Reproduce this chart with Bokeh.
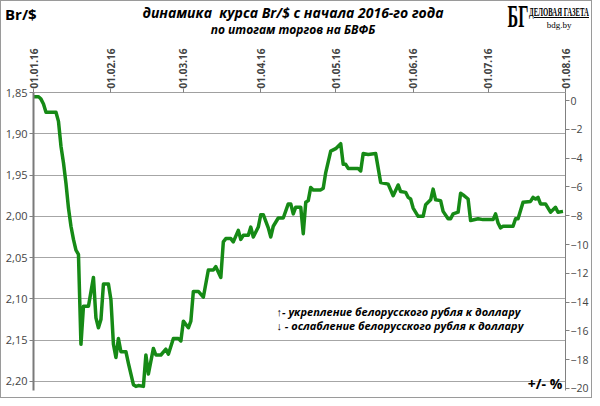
import pandas as pd
from bokeh.plotting import figure
from bokeh.layouts import column
from bokeh.models import (Range1d, LinearAxis, FixedTicker, MonthsTicker, Div,
                          DatetimeTickFormatter, CustomJSTickFormatter, Label)
from bokeh.embed import file_html
from bokeh.resources import INLINE

# Br/$ rate, BCSE session results
dates = [
    "2016-01-01", "2016-01-03", "2016-01-04", "2016-01-05", "2016-01-06", "2016-01-10",
    "2016-01-11", "2016-01-12", "2016-01-13", "2016-01-14", "2016-01-15", "2016-01-16",
    "2016-01-17", "2016-01-18", "2016-01-19", "2016-01-20", "2016-01-21", "2016-01-23",
    "2016-01-25", "2016-01-26", "2016-01-27", "2016-01-28", "2016-01-29", "2016-01-31",
    "2016-02-01", "2016-02-02", "2016-02-03", "2016-02-04", "2016-02-05", "2016-02-07",
    "2016-02-08", "2016-02-10", "2016-02-11", "2016-02-12", "2016-02-14", "2016-02-15",
    "2016-02-16", "2016-02-18", "2016-02-19", "2016-02-21", "2016-02-23", "2016-02-24",
    "2016-02-26", "2016-02-28", "2016-02-29",
    "2016-03-01", "2016-03-03", "2016-03-04", "2016-03-05", "2016-03-07", "2016-03-09",
    "2016-03-11", "2016-03-13", "2016-03-14", "2016-03-16", "2016-03-17", "2016-03-18",
    "2016-03-20", "2016-03-21", "2016-03-23", "2016-03-24", "2016-03-25", "2016-03-27",
    "2016-03-28", "2016-03-29", "2016-03-31",
    "2016-04-01", "2016-04-02", "2016-04-04", "2016-04-05", "2016-04-06", "2016-04-08",
    "2016-04-10", "2016-04-12", "2016-04-13", "2016-04-14", "2016-04-15", "2016-04-17",
    "2016-04-18", "2016-04-19", "2016-04-20", "2016-04-21", "2016-04-22", "2016-04-25",
    "2016-04-26", "2016-04-27", "2016-04-29",
    "2016-05-01", "2016-05-03", "2016-05-04", "2016-05-05", "2016-05-06", "2016-05-10",
    "2016-05-11", "2016-05-12", "2016-05-14", "2016-05-17", "2016-05-19", "2016-05-22",
    "2016-05-24", "2016-05-26", "2016-05-27", "2016-05-29", "2016-05-30", "2016-05-31",
    "2016-06-01", "2016-06-03", "2016-06-05", "2016-06-06", "2016-06-08", "2016-06-09",
    "2016-06-10", "2016-06-12", "2016-06-13", "2016-06-15", "2016-06-16", "2016-06-17",
    "2016-06-19", "2016-06-20", "2016-06-21", "2016-06-23", "2016-06-24", "2016-06-27",
    "2016-06-29",
    "2016-07-03", "2016-07-04", "2016-07-05", "2016-07-06", "2016-07-07", "2016-07-11",
    "2016-07-12", "2016-07-13", "2016-07-15", "2016-07-18", "2016-07-19", "2016-07-20",
    "2016-07-21", "2016-07-22", "2016-07-24", "2016-07-26", "2016-07-28", "2016-07-29",
    "2016-07-31",
]
rate = [
    1.855, 1.855, 1.858, 1.864, 1.874, 1.874,
    1.885, 1.915, 1.935, 1.960, 1.990, 2.012,
    2.028, 2.041, 2.046, 2.155, 2.109, 2.109,
    2.074, 2.123, 2.135, 2.125, 2.082, 2.082,
    2.101, 2.155, 2.171, 2.148, 2.164, 2.164,
    2.178, 2.204, 2.206, 2.205, 2.206, 2.168,
    2.191, 2.160, 2.168, 2.168, 2.161, 2.167,
    2.148, 2.148, 2.151,
    2.127, 2.135, 2.127, 2.091, 2.091, 2.098,
    2.065, 2.065, 2.061, 2.074, 2.031, 2.027,
    2.027, 2.031, 2.017, 2.028, 2.023, 2.023,
    2.013, 2.025, 2.013,
    1.998, 1.998, 2.014, 2.025, 2.012, 2.002,
    2.002, 1.985, 1.985, 1.997, 1.989, 1.989,
    2.021, 1.983, 1.981, 1.965, 1.968, 1.968,
    1.966, 1.947, 1.921,
    1.918, 1.912, 1.937, 1.937, 1.942, 1.942,
    1.945, 1.924, 1.925, 1.924, 1.959, 1.961,
    1.975, 1.962, 1.970, 1.971, 1.977, 1.979,
    1.990, 2.000, 2.000, 1.986, 1.980, 1.967,
    1.980, 1.981, 1.994, 2.003, 2.003, 1.997,
    1.995, 1.972, 1.974, 1.979, 2.005, 2.003,
    2.004,
    2.004, 1.997, 2.008, 2.014, 2.012, 2.012,
    2.003, 2.003, 1.983, 1.982, 1.977, 1.979,
    1.977, 1.985, 1.985, 1.995, 1.989, 1.995,
    1.994,
]
rate_ticks = [1.85, 1.90, 1.95, 2.00, 2.05, 2.10, 2.15, 2.20]
pct_ticks = [0, -2, -4, -6, -8, -10, -12, -14, -16, -18, -20]

title = "динамика&nbsp; курса Br/$ с начала 2016-го года"
subtitle = "по итогам торгов на БВФБ"
logo = "БГ"
logo_name = "ДЕЛОВАЯ ГАЗЕТА"
logo_site = "bdg.by"
note_up = "↑- укрепление белорусского рубля к доллару"
note_down = "↓ - ослабление белорусского рубля к доллару"

W = 590
HEAD_H = 35
MAIN_H = 361

# header strip as plain html text
sans = "font-family:'Open Sans';font-weight:bold;line-height:1;white-space:nowrap;position:absolute;"
serif = "font-family:'Liberation Serif';line-height:1;white-space:nowrap;position:absolute;"
head_html = f"""
<div style="position:relative;width:{W}px;height:{HEAD_H}px;color:black;">
  <span style="{sans}left:4px;top:6px;font-size:15px;">Br/$</span>
  <span style="{sans}left:292px;top:5px;font-size:14px;font-style:italic;transform:translateX(-50%);">{title}</span>
  <span style="{sans}left:292px;top:23px;font-size:12px;font-style:italic;transform:translateX(-50%);">{subtitle}</span>
  <span style="{serif}left:517px;top:0px;font-size:31px;font-weight:bold;transform:translateX(-50%) scaleX(0.52);">{logo}</span>
  <span style="{serif}left:558px;top:5px;font-size:12px;font-weight:bold;text-decoration:underline;transform:translateX(-50%) scaleX(0.56);">{logo_name}</span>
  <span style="{serif}left:558px;top:20px;font-size:9px;transform:translateX(-50%);">{logo_site}</span>
</div>
"""
head = Div(text=head_html, width=W, height=HEAD_H, margin=0)

# main chart
p = figure(width=W, height=MAIN_H, output_backend="svg", toolbar_location=None,
           x_axis_type="datetime", x_axis_location="above",
           x_range=Range1d(pd.Timestamp("2016-01-01"), pd.Timestamp("2016-08-01")),
           y_range=Range1d(2.211, 1.85),
           min_border_left=32, min_border_right=20,
           min_border_top=56, min_border_bottom=7,
           background_fill_color="white", border_fill_color="white")
p.outline_line_color = None
p.xgrid.grid_line_color = None
p.ygrid.grid_line_color = "#a6a6a6"
p.ygrid.grid_line_width = 1

p.line(pd.to_datetime(dates), rate, line_color="#168a16", line_width=3.5,
       line_join="round")

xa = p.xaxis[0]
xa.ticker = MonthsTicker(months=list(range(12)))
fmt = "%d.%m.%y"
xa.formatter = DatetimeTickFormatter(days=fmt, months=fmt, years=fmt)
xa.major_label_orientation = "vertical"
xa.major_label_text_font = "Open Sans"
xa.major_label_text_font_style = "bold"
xa.major_label_text_font_size = "10px"
xa.major_label_standoff = 0
xa.major_tick_out = 4
xa.major_tick_in = 0
xa.minor_tick_out = 0
xa.axis_line_color = "#a0a0a0"
xa.major_tick_line_color = "#808080"

ya = p.yaxis[0]
ya.ticker = FixedTicker(ticks=rate_ticks)
ya.formatter = CustomJSTickFormatter(code="return tick.toFixed(2).replace('.', ',');")
ya.major_label_text_font = "Open Sans"
ya.major_label_text_font_size = "11px"
ya.major_label_standoff = 2
ya.major_tick_out = 4
ya.major_tick_in = 0
ya.minor_tick_out = 0
ya.axis_line_color = "#7a7a7a"
ya.axis_line_width = 2
ya.major_tick_line_color = "#808080"

p.extra_y_ranges = {"pct": Range1d(-20.14, 0.56)}
ra = LinearAxis(y_range_name="pct", ticker=FixedTicker(ticks=pct_ticks))
ra.major_label_text_font = "Open Sans"
ra.major_label_text_font_size = "10.5px"
ra.major_label_standoff = 1
ra.major_tick_out = 4
ra.major_tick_in = 0
ra.minor_tick_out = 0
ra.axis_line_color = "#808080"
ra.major_tick_line_color = "#808080"
p.add_layout(ra, "right")

# notes: screen offsets from the frame's lower-left corner
for txt, up in [(note_up, 79), (note_down, 65)]:
    p.add_layout(Label(x=243, y=up, x_units="screen", y_units="screen", text=txt,
                       text_font="Open Sans", text_font_size="11px",
                       text_font_style="bold italic", text_baseline="middle",
                       text_color="black"))
p.add_layout(Label(x=pd.Timestamp("2016-07-30 18:00"), y=2.2024, text="+/- %",
                   text_font="Open Sans", text_font_size="14px", text_font_style="bold",
                   text_align="right", text_baseline="middle", text_color="black"))

page = column(head, p, spacing=0)
page.styles = {"border": "1px solid #9a9a9a"}

open("out.html", "w").write(file_html(page, INLINE))
